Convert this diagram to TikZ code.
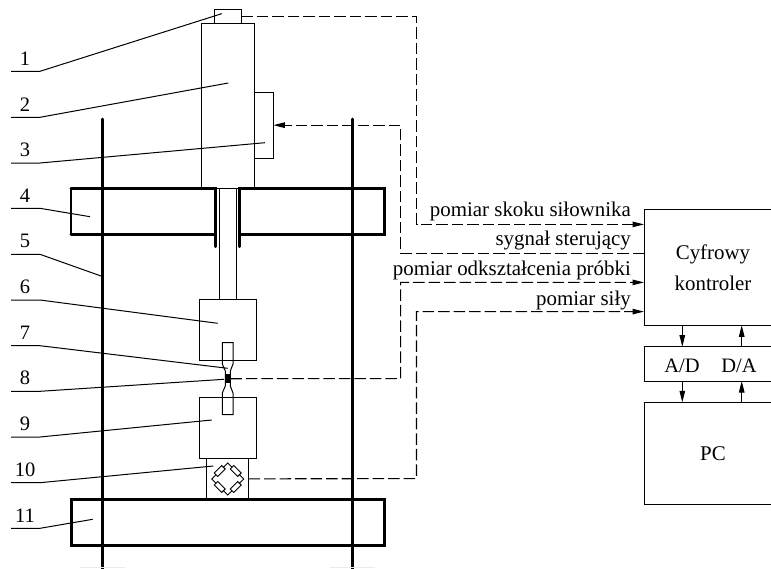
\documentclass[tikz,border=0pt]{standalone}
\usepackage{fontspec}
\setmainfont{Liberation Serif}
\usetikzlibrary{arrows.meta}
\tikzset{
  part/.style={draw, line width=1pt, inner sep=0pt, outer sep=0pt, anchor=north west},
  thickline/.style={line width=3pt, line cap=round},
  leader/.style={line width=1pt},
  signal/.style={line width=1.1pt, dash pattern=on 11.5pt off 4pt},
  lbl/.style={font=\fontsize{20.5}{24}\selectfont, inner sep=0pt},
  sig/.style={font=\fontsize{20.9}{24}\selectfont, inner sep=0pt, anchor=base east},
}
\begin{document}
\begin{tikzpicture}[x=1pt, y=-1pt, >={Triangle[length=11.5pt,width=5.5pt]}]
  \clip (0,0) rectangle (771,568);
  \fill[white] (0,0) rectangle (771,568);

  \node[part, minimum width=27pt, minimum height=14.4pt] (sensor) at (214.3,9.3) {};
  \node[part, minimum width=53pt, minimum height=164.3pt] (cyl) at (201.3,23.7) {};
  \node[part, minimum width=19pt, minimum height=66.3pt] (valve) at (254.3,92) {};
  \draw[line width=1pt] (219.3,188) -- (219.3,299.3) (236.7,188) -- (236.7,299.3);
  \node[part, minimum width=57pt, minimum height=61pt] (gripa) at (199.3,299.3) {};
  \node[part, minimum width=57pt, minimum height=61pt] (gripb) at (199.3,397) {};
  \node[part, minimum width=42pt, minimum height=41.7pt] (cell) at (206.7,458) {};

  \draw[line width=1pt] (222.3,414.7) -- (233,414.7) -- (233,393) -- (230.3,386) -- (230.3,371)
    -- (233,364) -- (233,342.7) -- (222.3,342.7) -- (222.3,364) -- (225.3,371) -- (225.3,386)
    -- (222.3,393) -- cycle;
  \node[fill=black, inner sep=0pt, outer sep=0pt, minimum width=5.2pt, minimum height=9.4pt] (gauge) at (227.8,378.7) {};

  \begin{scope}[shift={(227.7,479)}, line width=0.9pt]
    \draw (0,-16) -- (16,0) -- (0,16) -- (-16,0) -- cycle;
    \foreach \a in {45,135,225,315}
      \node[draw, fill=white, rotate=\a, minimum width=10.5pt, minimum height=5pt, inner sep=0pt] (r\a) at (\a:11.3) {};
  \end{scope}

  \draw[thickline] (102.7,119) -- (102.7,575);
  \draw[thickline] (352.3,119) -- (352.3,575);
  \draw[thickline] (215.7,246.7) -- (215.7,188.3) -- (71,188.3) (71,234.7) -- (215.7,234.7);
  \draw[thickline] (239.7,246.7) -- (239.7,188.3) -- (384.3,188.3) -- (384.3,234.7) -- (239.7,234.7);
  \draw[line width=1.5pt] (71,188.3) -- (71,234.7);
  \draw[thickline] (71,499.7) rectangle (384.3,545.7);

  \foreach \n/\y/\tx/\ty in {1/71.3/221.7/13.7, 2/117.3/228.3/83, 3/163/265/142.7, 4/208.3/90/216.7,
      5/254.3/101/276, 6/300/217.7/323.3, 7/345.7/227.7/368.3, 8/391.3/224/379.3, 9/437/211.7/420,
      10/482.7/213.3/466, 11/528.3/92.7/519.3}
  {
    \node[lbl, anchor=south] (n\n) at (25,\y-6) {\n};
    \coordinate (u\n) at (11,\y);
    \coordinate (k\n) at (40,\y);
    \coordinate (t\n) at (\tx,\ty);
    \draw[leader] (u\n) -- (k\n) -- (t\n);
  }

  \node[part, minimum width=138pt, minimum height=116pt, align=center, font=\fontsize{20.9}{31}\selectfont] (ctrl) at (644,209.3) {Cyfrowy\\kontroler};
  \node[part, minimum width=138pt, minimum height=34.3pt] (conv) at (644,346.7) {};
  \node[part, minimum width=138pt, minimum height=102pt, font=\fontsize{20.9}{24}\selectfont] (pc) at (644,402.3) {PC};
  \node[lbl] (ad) at (682,366) {A/D};
  \node[lbl] (da) at (739,366) {D/A};
  \coordinate (adx) at (682.3,0);
  \coordinate (dax) at (741.7,0);
  \path[->, line width=1pt]
  (ctrl.south -| adx) edge (conv.north -| adx)
  (conv.south -| adx) edge (pc.north -| adx)
  (conv.north -| dax) edge (ctrl.south -| dax)
  (pc.north -| dax) edge (conv.south -| dax)
  ;

  \node[sig] (s1) at (631,216.7) {pomiar skoku siłownika};
  \node[sig] (s2) at (631,245.7) {sygnał sterujący};
  \node[sig] (s3) at (631,275.7) {pomiar odkształcenia próbki};
  \node[sig] (s4) at (631,305) {pomiar siły};

  \coordinate (ea) at (644,224.4);
  \coordinate (eb) at (644,253.4);
  \coordinate (ec) at (644,282.4);
  \coordinate (ed) at (644,311.6);
  \coordinate (sa) at (sensor.east);
  \coordinate (sb) at (valve.east);
  \coordinate (sc) at (gauge.east);
  \coordinate (sd) at (cell.east);
  \draw[signal, ->] (sa) -- (416.5,16.5) -- (416.5,224.4) -- (ea);
  \draw[signal, ->] (eb) -- (400.6,253.4) -- (400.6,125 |- sb) -- (sb);
  \draw[signal, ->] (sc) -- (400.6,378.6) -- (400.6,282.4) -- (ec);
  \draw[signal, ->] (sd) -- (416.5,478.6) -- (416.5,311.6) -- (ed);

  \draw[black!8, line width=1pt] (80,567.5) -- (125,567.5) (330,567.5) -- (375,567.5);
\end{tikzpicture}
\end{document}
